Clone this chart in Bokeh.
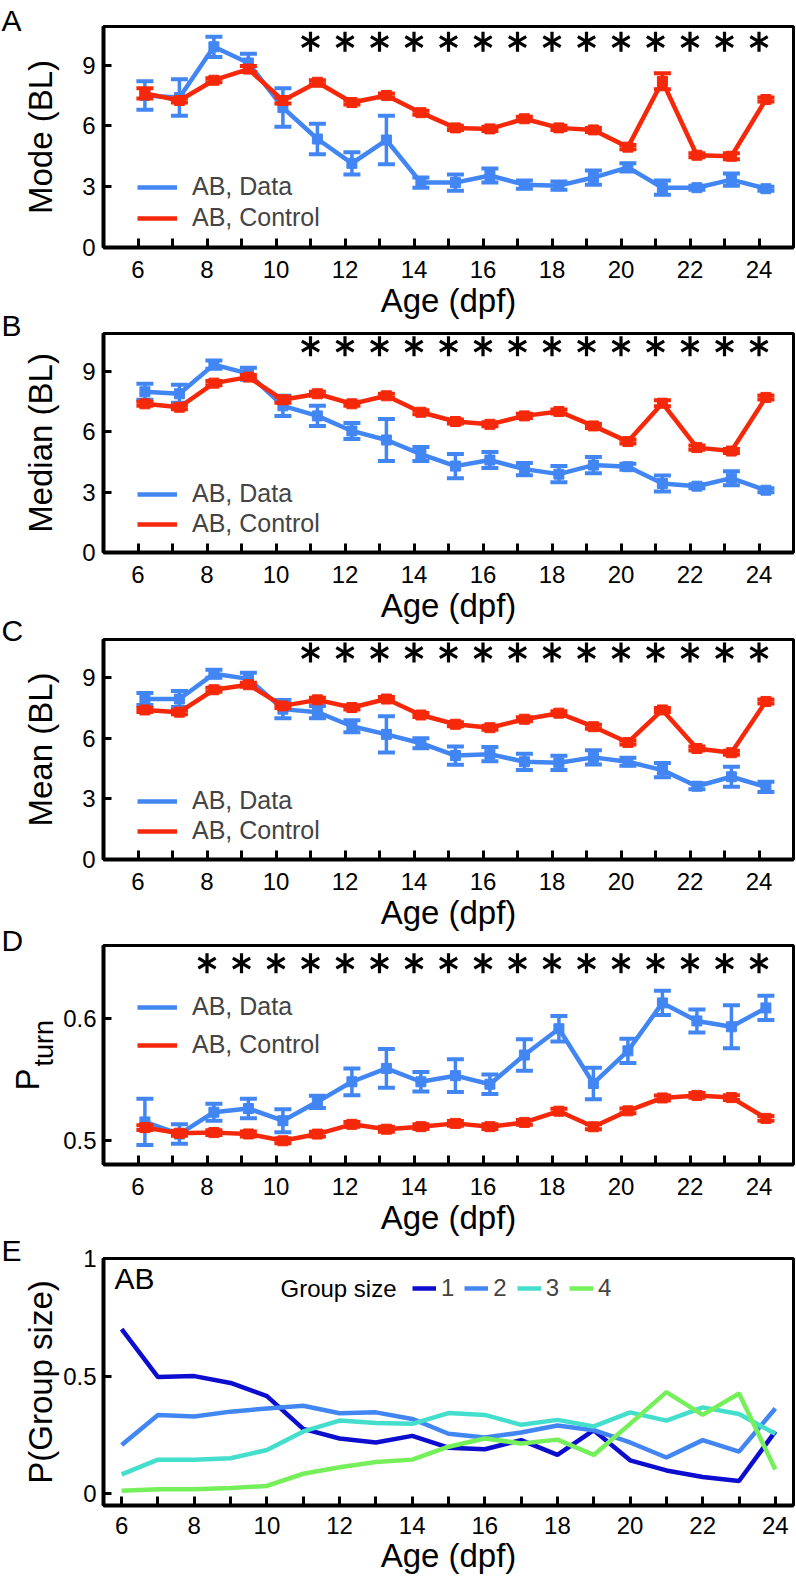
import numpy as np
from bokeh.plotting import figure
from bokeh.models import Range1d, FixedTicker, Legend, LegendItem, Label
from bokeh.layouts import column, row
from bokeh.embed import file_html
from bokeh.resources import INLINE
from bokeh.core.properties import value

# ---------------- data ----------------
ages = list(range(6, 25))
age_shift = 0.2          # points in A-D sit slightly right of the integer tick
sig_abc = list(range(11, 25))
sig_d = list(range(8, 25))

mode_data = [7.5, 7.4, 9.9, 9.1, 6.9, 5.35, 4.15, 5.3, 3.2, 3.2, 3.55, 3.1, 3.05, 3.45, 3.95, 2.95, 2.95, 3.35, 2.9]
mode_data_err = [0.7, 0.9, 0.5, 0.45, 0.95, 0.75, 0.55, 1.2, 0.25, 0.4, 0.35, 0.2, 0.2, 0.35, 0.2, 0.35, 0.1, 0.3, 0.1]
mode_ctrl = [7.6, 7.25, 8.25, 8.8, 7.25, 8.15, 7.15, 7.5, 6.65, 5.9, 5.85, 6.35, 5.9, 5.8, 4.95, 8.2, 4.55, 4.5, 7.3]
mode_ctrl_err = [0.25, 0.1, 0.1, 0.15, 0.15, 0.1, 0.1, 0.1, 0.1, 0.1, 0.1, 0.1, 0.1, 0.1, 0.1, 0.4, 0.1, 0.15, 0.1]

median_data = [8.0, 7.9, 9.35, 8.9, 7.3, 6.8, 6.05, 5.6, 4.9, 4.3, 4.6, 4.15, 3.9, 4.35, 4.27, 3.43, 3.3, 3.7, 3.1]
median_data_err = [0.4, 0.45, 0.2, 0.3, 0.5, 0.5, 0.4, 1.05, 0.35, 0.6, 0.4, 0.3, 0.4, 0.4, 0.15, 0.4, 0.1, 0.35, 0.1]
median_ctrl = [7.4, 7.23, 8.43, 8.73, 7.6, 7.9, 7.4, 7.8, 6.98, 6.52, 6.38, 6.8, 7.02, 6.3, 5.52, 7.43, 5.22, 5.05, 7.72]
median_ctrl_err = [0.1, 0.1, 0.1, 0.1, 0.15, 0.1, 0.1, 0.1, 0.1, 0.1, 0.1, 0.1, 0.1, 0.1, 0.1, 0.15, 0.1, 0.1, 0.1]

mean_data = [7.95, 7.95, 9.2, 8.95, 7.45, 7.3, 6.6, 6.2, 5.76, 5.15, 5.22, 4.84, 4.79, 5.06, 4.84, 4.43, 3.63, 4.1, 3.6]
mean_data_err = [0.3, 0.4, 0.2, 0.3, 0.45, 0.3, 0.3, 0.9, 0.25, 0.45, 0.35, 0.4, 0.35, 0.35, 0.2, 0.35, 0.15, 0.5, 0.25]
mean_ctrl = [7.41, 7.3, 8.41, 8.66, 7.61, 7.91, 7.53, 7.95, 7.16, 6.7, 6.53, 6.95, 7.25, 6.58, 5.8, 7.41, 5.5, 5.29, 7.83]
mean_ctrl_err = [0.1, 0.1, 0.1, 0.1, 0.1, 0.1, 0.1, 0.1, 0.1, 0.1, 0.1, 0.1, 0.1, 0.1, 0.1, 0.1, 0.1, 0.1, 0.1]

pturn_data = [0.515, 0.505, 0.523, 0.526, 0.516, 0.5315, 0.548, 0.559, 0.548, 0.553, 0.546, 0.570, 0.5916, 0.5466, 0.5734, 0.6128, 0.598, 0.5932, 0.6087]
pturn_data_err = [0.019, 0.008, 0.007, 0.008, 0.0095, 0.005, 0.011, 0.016, 0.008, 0.0135, 0.008, 0.013, 0.0105, 0.013, 0.01, 0.01, 0.0095, 0.0176, 0.01]
pturn_ctrl = [0.5103, 0.5057, 0.5062, 0.5051, 0.4995, 0.505, 0.513, 0.509, 0.5111, 0.5138, 0.5111, 0.5146, 0.5238, 0.511, 0.5241, 0.5347, 0.5368, 0.535, 0.5179]
pturn_ctrl_err = [0.002] * 19

group1 = [0.70, 0.496, 0.50, 0.471, 0.415, 0.276, 0.235, 0.218, 0.246, 0.196, 0.189, 0.228, 0.165, 0.27, 0.142, 0.099, 0.071, 0.054, 0.265]
group2 = [0.207, 0.335, 0.328, 0.349, 0.3625, 0.374, 0.342, 0.346, 0.318, 0.255, 0.239, 0.26, 0.29, 0.27, 0.218, 0.154, 0.228, 0.179, 0.3625]
group3 = [0.082, 0.145, 0.145, 0.151, 0.186, 0.265, 0.311, 0.301, 0.297, 0.343, 0.335, 0.293, 0.314, 0.286, 0.346, 0.311, 0.367, 0.339, 0.255]
group4 = [0.0125, 0.019, 0.019, 0.024, 0.033, 0.085, 0.1125, 0.135, 0.145, 0.2, 0.235, 0.214, 0.23, 0.165, 0.297, 0.432, 0.335, 0.426, 0.103]
group_labels = ["1", "2", "3", "4"]

panel_letters = ["A", "B", "C", "D", "E"]
y_titles = ["Mode (BL)", "Median (BL)", "Mean (BL)", None, "P(Group size)"]

# ---------------- style / layout ----------------
FONT = "Liberation Sans"
BLUE = "#4286f4"
RED = "#f5290a"
GROUP_COLORS = ["#0d0dcf", "#4286f4", "#44dfcc", "#76f05a"]
PAGE_W, PAGE_H = 796, 1582
COL_W = 60                    # left strip holding panel letters and y titles
MAIN_W = PAGE_W - COL_W
LEFT = 101 - COL_W
RIGHT = 3
# (figure height, top border, frame height, bottom border) for each panel
geom = [(327, 26, 221, 80), (305, 6, 219, 80), (307, 7, 220, 80), (305, 6, 219, 80), (338, 14, 247, 77)]
letter_tops = [3, 308, 613, 923, 1233]


def base_fig(g, xr, yr, tick_std=13, lab_std=1):
    h, top, fh, bottom = g
    p = figure(width=MAIN_W, height=h, x_range=Range1d(*xr), y_range=Range1d(*yr),
               toolbar_location=None, output_backend="svg", title=None,
               min_border_left=LEFT, min_border_right=RIGHT,
               min_border_top=top, min_border_bottom=bottom)
    p.xgrid.visible = False
    p.ygrid.visible = False
    p.background_fill_color = "white"
    p.border_fill_color = "white"
    p.outline_line_color = "black"
    p.outline_line_width = 3
    for ax in (p.xaxis, p.yaxis):
        ax.axis_line_width = 4
        ax.axis_line_color = "black"
        ax.major_tick_line_width = 3
        ax.major_tick_line_color = "black"
        ax.major_label_text_font = FONT
        ax.major_label_text_font_size = "24px"
        ax.major_label_text_color = "black"
        ax.axis_label_text_font = FONT
        ax.axis_label_text_font_size = "33px"
        ax.axis_label_text_font_style = "normal"
        ax.axis_label_text_color = "black"
    p.xaxis.ticker = FixedTicker(ticks=list(range(6, 25, 2)), minor_ticks=list(range(7, 24, 2)))
    p.xaxis.major_tick_in = 9
    p.xaxis.major_tick_out = 0
    p.xaxis.minor_tick_in = 9
    p.xaxis.minor_tick_out = 0
    p.xaxis.minor_tick_line_width = 3
    p.xaxis.minor_tick_line_color = "black"
    p.xaxis.major_label_standoff = tick_std
    p.xaxis.axis_label = "Age (dpf)"
    p.xaxis.axis_label_standoff = lab_std
    p.yaxis.major_tick_in = 8
    p.yaxis.major_tick_out = 0
    p.yaxis.minor_tick_line_color = None
    p.yaxis.major_label_standoff = 8
    return p


def series(p, vals, errs, color):
    xs = [a + age_shift for a in ages]
    lo = [v - e for v, e in zip(vals, errs)]
    hi = [v + e for v, e in zip(vals, errs)]
    line = p.line(xs, vals, line_color=color, line_width=4.5)
    p.segment(x0=xs, y0=lo, x1=xs, y1=hi, line_color=color, line_width=3.5)
    p.scatter(xs, lo, marker="dash", size=17, line_color=color, line_width=4)
    p.scatter(xs, hi, marker="dash", size=17, line_color=color, line_width=4)
    p.scatter(xs, vals, marker="square", size=10, fill_color=color, line_color=color)
    return line


def stars(p, days, ystar):
    ys = [ystar] * len(days)
    for ang in (np.pi / 2, np.pi / 6, -np.pi / 6):
        p.scatter(days, ys, marker="dash", size=20, angle=ang, line_color="black", line_width=3.2)


def two_series_panel(g, yr, yticks, d, de, c, ce, sig, ystar, leg_y, leg_sp):
    p = base_fig(g, (5, 25), yr)
    p.yaxis.ticker = FixedTicker(ticks=yticks)
    stars(p, sig, ystar)
    bl = series(p, d, de, BLUE)
    rl = series(p, c, ce, RED)
    leg = Legend(items=[LegendItem(label="AB, Data", renderers=[bl]),
                        LegendItem(label="AB, Control", renderers=[rl])],
                 location=(34, leg_y), orientation="vertical", padding=0, margin=0,
                 spacing=leg_sp, glyph_width=40, glyph_height=20, label_standoff=15,
                 label_text_font=FONT, label_text_font_size="25px",
                 background_fill_alpha=0, border_line_alpha=0)
    p.add_layout(leg)
    return p


pA = two_series_panel(geom[0], (0, 10.9), [0, 3, 6, 9],
                      mode_data, mode_data_err, mode_ctrl, mode_ctrl_err, sig_abc, 10.15, 15, 2)
pB = two_series_panel(geom[1], (0, 10.9), [0, 3, 6, 9],
                      median_data, median_data_err, median_ctrl, median_ctrl_err, sig_abc, 10.27, 14, 1)
pC = two_series_panel(geom[2], (0, 10.9), [0, 3, 6, 9],
                      mean_data, mean_data_err, mean_ctrl, mean_ctrl_err, sig_abc, 10.25, 14, 1)
pD = two_series_panel(geom[3], (0.48, 0.66), [0.5, 0.6],
                      pturn_data, pturn_data_err, pturn_ctrl, pturn_ctrl_err, sig_d, 0.6455, 105, 9)
pD.yaxis.major_label_overrides = {0.5: "0.5", 0.6: "0.6"}
pD.yaxis.major_label_standoff = 7

# ---------------- panel E ----------------
pE = base_fig(geom[4], (5.5, 24.5), (-0.05, 1.0), tick_std=11, lab_std=0)
fE = geom[4][2]
pE.yaxis.ticker = FixedTicker(ticks=[0, 0.5, 1])
pE.yaxis.major_label_overrides = {0: "0", 0.5: "0.5", 1: "1"}
pE.yaxis.major_label_standoff = 7
items = []
for lab, vals, col in zip(group_labels, [group1, group2, group3, group4], GROUP_COLORS):
    r = pE.line(ages, vals, line_color=col, line_width=4.5)
    items.append(LegendItem(label=lab, renderers=[r]))
legE = Legend(items=items, location=(309, fE - 44), orientation="horizontal", padding=0, margin=0,
              spacing=10, glyph_width=24, glyph_height=20, label_standoff=5, label_width=13,
              label_text_font=FONT, label_text_font_size="24px",
              background_fill_alpha=0, border_line_alpha=0)
pE.add_layout(legE)
pE.add_layout(Label(x=177, y=fE - 30, x_units="screen", y_units="screen", text="Group size",
                    text_font=FONT, text_font_size="24px", text_baseline="middle",
                    text_align="left", text_color="black"))
pE.add_layout(Label(x=11, y=fE - 3, x_units="screen", y_units="screen", text="AB",
                    text_font=FONT, text_font_size="30px", text_baseline="top",
                    text_align="left", text_color="black"))

# ---------------- left strip: panel letters and y titles ----------------
strip = figure(width=COL_W, height=PAGE_H, x_range=Range1d(0, COL_W), y_range=Range1d(0, PAGE_H),
               toolbar_location=None, output_backend="svg", title=None,
               x_axis_location=None, y_axis_location=None,
               min_border_left=0, min_border_right=0, min_border_top=0, min_border_bottom=0)
strip.xgrid.visible = False
strip.ygrid.visible = False
strip.outline_line_color = None
strip.background_fill_color = "white"
strip.border_fill_color = "white"

strip.text(x=[1] * 5, y=[PAGE_H - t for t in letter_tops], text=panel_letters,
           text_font=value(FONT), text_font_size=value("30px"), text_color="black",
           text_align="left", text_baseline="top")

frame_centres = []
acc = 0
for (h, top, fh, bottom) in geom:
    frame_centres.append(acc + top + fh / 2)
    acc += h
tx, ty, tt = [], [], []
for title, fc in zip(y_titles, frame_centres):
    if title:
        tx.append(40)
        ty.append(PAGE_H - fc)
        tt.append(title)
strip.text(x=tx, y=ty, text=tt, angle=np.pi / 2, text_font=value(FONT),
           text_font_size=value("33px"), text_color="black",
           text_align="center", text_baseline="alphabetic")
# P with subscript "turn" for panel D
strip.text(x=[27], y=[PAGE_H - 1090], text=["P"], angle=np.pi / 2, text_font=value(FONT),
           text_font_size=value("33px"), text_color="black",
           text_align="left", text_baseline="alphabetic")
strip.text(x=[43], y=[PAGE_H - 1066], text=["turn"], angle=np.pi / 2, text_font=value(FONT),
           text_font_size=value("27px"), text_color="black",
           text_align="left", text_baseline="alphabetic")

layout = row(strip, column(pA, pB, pC, pD, pE, spacing=0), spacing=0)
open("out.html", "w").write(file_html(layout, INLINE))
